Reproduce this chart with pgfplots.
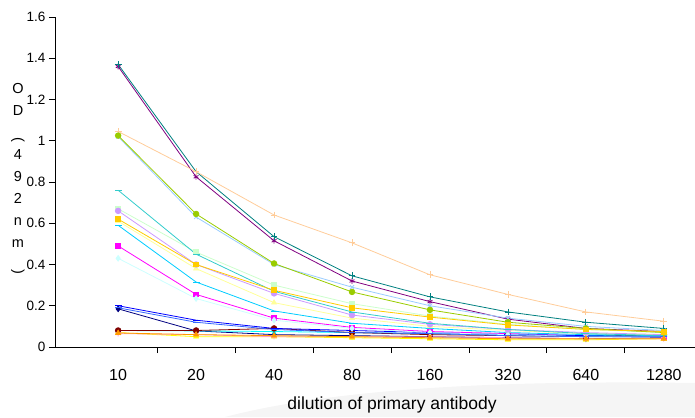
\documentclass[border=0pt]{standalone}
\usepackage{fontspec}
\setmainfont{Liberation Sans}
\usepackage{pgfplots}
\pgfplotsset{compat=1.18}

% Excel-style palette
\definecolor{cNavy}{HTML}{000080}
\definecolor{cMag}{HTML}{FF00FF}
\definecolor{cYel}{HTML}{FFFF00}
\definecolor{cCya}{HTML}{00FFFF}
\definecolor{cPur}{HTML}{800080}
\definecolor{cDred}{HTML}{800000}
\definecolor{cTeal}{HTML}{008080}
\definecolor{cBlue}{HTML}{0000FF}
\definecolor{cSky}{HTML}{00CCFF}
\definecolor{cLcya}{HTML}{CCFFFF}
\definecolor{cLgrn}{HTML}{CCFFCC}
\definecolor{cLyel}{HTML}{FFFF99}
\definecolor{cLblu}{HTML}{99CCFF}
\definecolor{cPink}{HTML}{FF99CC}
\definecolor{cLav}{HTML}{CC99FF}
\definecolor{cPeach}{HTML}{FFCC99}
\definecolor{cRoy}{HTML}{3366FF}
\definecolor{cTurq}{HTML}{33CCCC}
\definecolor{cLime}{HTML}{99CC00}
\definecolor{cGold}{HTML}{FFCC00}
\definecolor{cOrng}{HTML}{FF9900}

\begin{document}
\begin{tikzpicture}
\path[use as bounding box] (-55pt,-70pt) rectangle (640pt,347pt);
% faint grey band at the foot of the slide
\fill[black!4] (170pt,-70pt) .. controls (300pt,-36pt) and (500pt,-34pt) .. (640pt,-36pt) -- (640pt,-70pt) -- cycle;
\begin{axis}[
  scale only axis,
  width=640pt, height=330pt,
  xmin=-0.81, xmax=7.4,
  ymin=0, ymax=1.6,
  axis lines*=left,
  axis line style={black, line width=0.9pt},
  xtick={0,...,7},
  xticklabels={10,20,40,80,160,320,640,1280},
  major x tick style={draw=none},
  minor xtick={0.5,1.5,...,6.5},
  minor tick length=6pt,
  tick align=outside,
  ytick={0,0.2,...,1.6},
  major tick length=6pt,
  tick style={black, line width=0.8pt},
  yticklabel style={/pgf/number format/fixed, /pgf/number format/precision=1},
  /pgf/number format/assume math mode=true,
  xticklabel style={font=\fontsize{16}{18}\selectfont, yshift=-13pt},
  yticklabel style={font=\fontsize{13.5}{16}\selectfont, xshift=0pt},
  xlabel={dilution of primary antibody},
  xlabel style={font=\fontsize{17.5}{20}\selectfont, yshift=-9pt, xshift=17pt},
  clip=false,
  every axis plot/.append style={line width=0.8pt, mark size=2.8pt},
]
\addplot[cNavy, mark=diamond*] coordinates {(0,0.185)(1,0.078)(2,0.06)(3,0.055)(4,0.05)(5,0.045)(6,0.04)(7,0.045)};
\addplot[cMag, mark=square*, mark size=2.4pt] coordinates {(0,0.49)(1,0.255)(2,0.14)(3,0.095)(4,0.075)(5,0.065)(6,0.055)(7,0.05)};
\addplot[cYel, mark=triangle*] coordinates {(0,0.07)(1,0.05)(2,0.05)(3,0.045)(4,0.04)(5,0.035)(6,0.035)(7,0.04)};
\addplot[cCya, mark=x] coordinates {(0,0.08)(1,0.078)(2,0.075)(3,0.07)(4,0.065)(5,0.06)(6,0.055)(7,0.06)};
\addplot[cPur, mark=asterisk] coordinates {(0,1.36)(1,0.825)(2,0.515)(3,0.32)(4,0.22)(5,0.135)(6,0.09)(7,0.075)};
\addplot[cDred, mark=*] coordinates {(0,0.08)(1,0.08)(2,0.09)(3,0.07)(4,0.06)(5,0.055)(6,0.05)(7,0.06)};
\addplot[cTeal, mark=+, mark size=3.4pt] coordinates {(0,1.37)(1,0.85)(2,0.535)(3,0.345)(4,0.243)(5,0.17)(6,0.12)(7,0.09)};
\addplot[cBlue, mark=-, mark size=3.5pt] coordinates {(0,0.2)(1,0.13)(2,0.09)(3,0.08)(4,0.07)(5,0.06)(6,0.055)(7,0.05)};
\addplot[cSky, mark=-, mark size=3.5pt] coordinates {(0,0.59)(1,0.315)(2,0.175)(3,0.115)(4,0.09)(5,0.07)(6,0.06)(7,0.055)};
\addplot[cLcya, mark=diamond*] coordinates {(0,0.43)(1,0.235)(2,0.13)(3,0.09)(4,0.07)(5,0.06)(6,0.05)(7,0.05)};
\addplot[cLgrn, mark=square*, mark size=2.4pt] coordinates {(0,0.67)(1,0.46)(2,0.30)(3,0.21)(4,0.15)(5,0.11)(6,0.085)(7,0.07)};
\addplot[cLyel, mark=triangle*] coordinates {(0,0.61)(1,0.38)(2,0.215)(3,0.14)(4,0.10)(5,0.08)(6,0.065)(7,0.06)};
\addplot[cLblu, mark=x] coordinates {(0,1.02)(1,0.63)(2,0.40)(3,0.29)(4,0.20)(5,0.14)(6,0.10)(7,0.08)};
\addplot[cPink, mark=asterisk] coordinates {(0,0.065)(1,0.06)(2,0.05)(3,0.05)(4,0.05)(5,0.045)(6,0.04)(7,0.04)};
\addplot[cLav, mark=*] coordinates {(0,0.66)(1,0.40)(2,0.26)(3,0.155)(4,0.11)(5,0.085)(6,0.07)(7,0.06)};
\addplot[cPeach, mark=+, mark size=3.4pt] coordinates {(0,1.045)(1,0.85)(2,0.64)(3,0.505)(4,0.35)(5,0.255)(6,0.17)(7,0.125)};
\addplot[cRoy, mark=-, mark size=3.5pt] coordinates {(0,0.19)(1,0.12)(2,0.085)(3,0.07)(4,0.065)(5,0.055)(6,0.05)(7,0.05)};
\addplot[cTurq, mark=-, mark size=3.5pt] coordinates {(0,0.76)(1,0.45)(2,0.27)(3,0.17)(4,0.115)(5,0.085)(6,0.065)(7,0.055)};
\addplot[cLime, mark=*] coordinates {(0,1.025)(1,0.645)(2,0.405)(3,0.267)(4,0.18)(5,0.12)(6,0.09)(7,0.07)};
\addplot[cGold, mark=square*, mark size=2.4pt] coordinates {(0,0.62)(1,0.40)(2,0.275)(3,0.19)(4,0.145)(5,0.107)(6,0.085)(7,0.075)};
\addplot[cOrng, mark=triangle*] coordinates {(0,0.068)(1,0.06)(2,0.055)(3,0.05)(4,0.045)(5,0.04)(6,0.04)(7,0.04)};
\node[font=\fontsize{14.5}{22}\selectfont, align=center, anchor=center]
  at (rel axis cs:0,0.51) [xshift=-37pt]
  {O\\D\\\rotatebox{-90}{(}\\4\\9\\2\\n\\m\\\rotatebox{-90}{)}};
\end{axis}
\end{tikzpicture}
\end{document}
